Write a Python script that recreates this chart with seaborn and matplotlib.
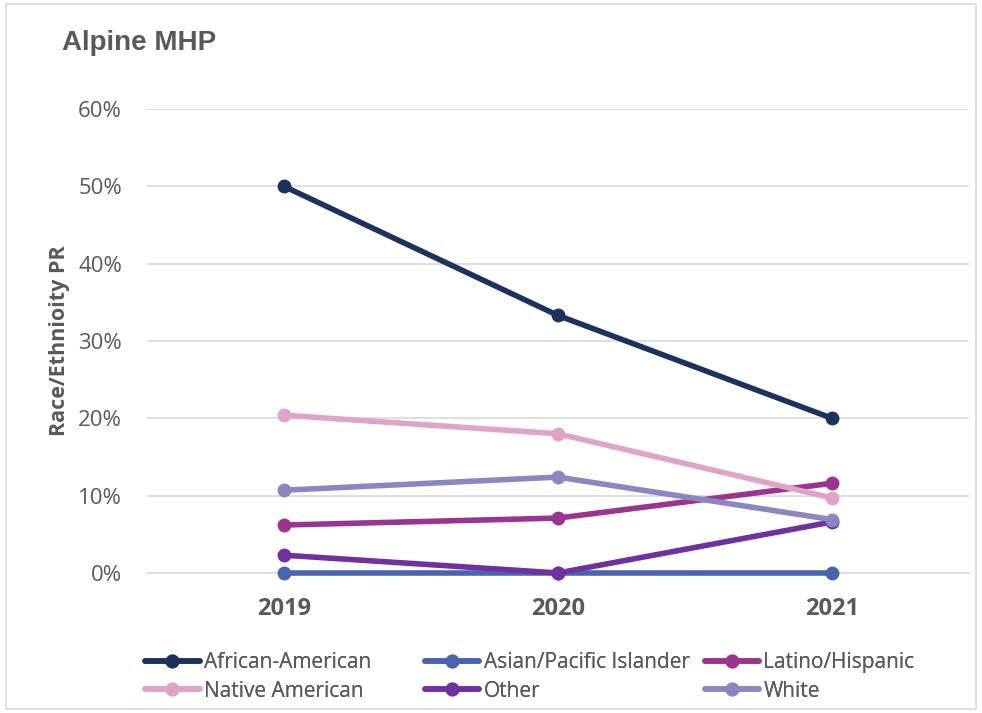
import pandas as pd
import seaborn as sns
import matplotlib.pyplot as plt
from matplotlib.patches import Rectangle
from matplotlib.ticker import PercentFormatter

years = ['2019', '2020', '2021']
groups = ['African-American', 'Asian/Pacific Islander', 'Latino/Hispanic',
          'Native American', 'Other', 'White']
african_american = [0.500, 0.333, 0.200]
asian_pacific = [0.0, 0.0, 0.0]
latino_hispanic = [0.062, 0.071, 0.116]
native_american = [0.204, 0.180, 0.097]
other = [0.023, 0.0, 0.066]
white = [0.107, 0.124, 0.069]
colors = ['#1B325F', '#4A63AE', '#9B3390', '#E0A3C8', '#7030A0', '#8B85C1']

series = [african_american, asian_pacific, latino_hispanic, native_american, other, white]
df = pd.DataFrame([(g, y, v) for g, vals in zip(groups, series) for y, v in zip(years, vals)],
                  columns=['group', 'year', 'value'])

sns.set_style('white')
plt.rcParams['font.family'] = ['Open Sans', 'DejaVu Sans']
grey = '#595959'

fig = plt.figure(figsize=(9.82, 7.13), dpi=100)
ax = fig.add_axes([0.1497, 0.1964, 0.8371, 0.6507])

sns.lineplot(data=df, x='year', y='value', hue='group', hue_order=groups,
             palette=colors, marker='o', markersize=10, markeredgewidth=0,
             linewidth=4, ax=ax, legend=True)
for ln in ax.lines:
    ln.set_clip_on(False)

ax.set_xlim(-0.5, 2.5)
ax.set_ylim(0, 0.6)
ax.set_yticks([0, 0.1, 0.2, 0.3, 0.4, 0.5, 0.6])
ax.yaxis.set_major_formatter(PercentFormatter(1.0, decimals=0))
ax.grid(axis='y', color='#D9D9D9', linewidth=1.2)
ax.set_axisbelow(True)
for s in ['top', 'right', 'left']:
    ax.spines[s].set_visible(False)
ax.spines['bottom'].set_color('#D9D9D9')
ax.spines['bottom'].set_linewidth(1.2)
ax.spines['bottom'].set_zorder(0.5)

ax.set_xticks([0, 1, 2])
ax.set_xticklabels(years, fontsize=17, fontweight='bold', color=grey)
ax.set_xticks([-0.5, 0.5, 1.5, 2.5], minor=True)
ax.tick_params(axis='x', which='major', length=0, pad=17)
ax.tick_params(axis='x', which='minor', length=7, color='#D9D9D9', width=1.2, direction='out')
ax.tick_params(axis='y', length=0, labelsize=16, labelcolor=grey, pad=18)

ax.set_xlabel('')
ax.set_ylabel('Race/Ethnioity PR', fontsize=15.5, fontweight='bold', color=grey, labelpad=6)

fig.text(0.063, 0.94, 'Alpine MHP', fontsize=20, fontweight='bold', color=grey,
         family=['Liberation Sans', 'DejaVu Sans'], va='center', ha='left')

# legend: three columns, filled row by row
handles, labels = ax.get_legend_handles_labels()
ax.get_legend().remove()
col_x = [0.148, 0.433, 0.718]
for c, x0 in enumerate(col_x):
    idx = [c, c + 3]
    leg = fig.legend([handles[i] for i in idx], [labels[i] for i in idx],
                     loc='upper left', bbox_to_anchor=(x0, 0.085),
                     frameon=False, fontsize=15, labelcolor=grey,
                     handlelength=2.6, handletextpad=0.2, labelspacing=0.35,
                     borderaxespad=0, borderpad=0)
    fig.add_artist(leg)

fig.patches.append(Rectangle((0.006, 0.006), 0.988, 0.988, transform=fig.transFigure,
                             fill=False, edgecolor='#D9D9D9', linewidth=1.2))

fig.savefig('out.png', dpi=100)
